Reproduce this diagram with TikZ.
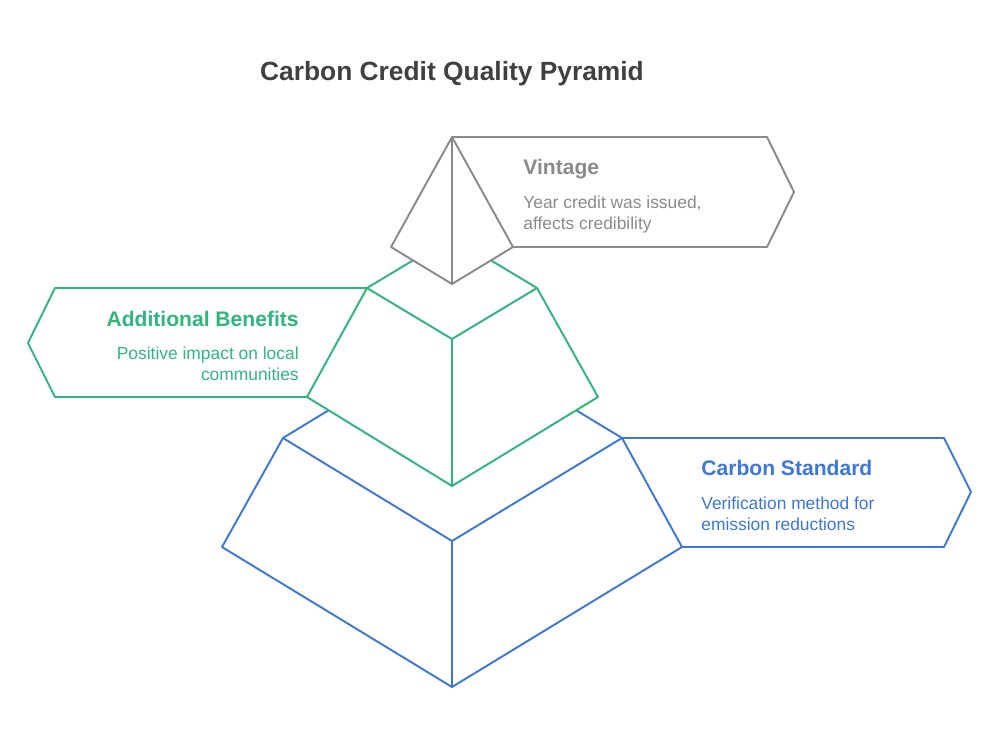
\documentclass[tikz,border=0pt]{standalone}
\usepackage{fontspec}
\setmainfont{Liberation Sans}
\definecolor{vintagegray}{HTML}{8A8A8A}
\definecolor{benefitgreen}{HTML}{2FB67C}
\definecolor{standardblue}{HTML}{3B78D8}
\definecolor{titlegray}{HTML}{404040}
\tikzset{
    edge/.style={line width=1.1pt, line join=round},
    head/.style={font=\fontsize{12}{14}\selectfont\bfseries, inner sep=0pt},
    desc/.style={font=\fontsize{9.9}{11.4}\selectfont, inner sep=0pt}
}
\begin{document}
\begin{tikzpicture}[x=0.02cm, y=-0.02cm]
    \useasboundingbox (0,0) rectangle (1000,744);

    \node[font=\fontsize{15}{18}\selectfont\bfseries, text=titlegray, anchor=base, inner sep=0pt] (title) at (452,80) {Carbon Credit Quality Pyramid};

    % bottom level
    \coordinate (bTop) at (452,335);
    \coordinate (bL) at (283,438);
    \coordinate (bR) at (622,438);
    \coordinate (bIn) at (452,541);
    \coordinate (bLL) at (222,547);
    \coordinate (bRR) at (682,547);
    \coordinate (bBot) at (452,687);
    \draw[edge, standardblue] (bTop) -- (bL) -- (bIn) -- (bR) -- cycle;
    \draw[edge, standardblue] (bR) -- (bRR) -- (bBot) -- (bLL) -- (bL);
    \draw[edge, standardblue] (bIn) -- (bBot);
    \draw[edge, standardblue] (bR) -- (944,438) -- (971,492) -- (944,547) -- (bRR);
    \node[head, text=standardblue, anchor=base west] (standardHead) at (701,475) {Carbon Standard};
    \node[desc, text=standardblue, anchor=base west, align=left] (standardDesc) at (701,530) {Verification method for\\emission reductions};

    % middle level
    \coordinate (gTop) at (452,237);
    \coordinate (gL) at (367,288);
    \coordinate (gR) at (537,288);
    \coordinate (gIn) at (452,339);
    \coordinate (gLL) at (307,397);
    \coordinate (gRR) at (598,397);
    \coordinate (gBot) at (452,486);
    \fill[white] (gTop) -- (gR) -- (gRR) -- (gBot) -- (gLL) -- (gL) -- cycle;
    \draw[edge, benefitgreen] (gTop) -- (gL) -- (gIn) -- (gR) -- cycle;
    \draw[edge, benefitgreen] (gR) -- (gRR) -- (gBot) -- (gLL) -- (gL);
    \draw[edge, benefitgreen] (gIn) -- (gBot);
    \draw[edge, benefitgreen] (gL) -- (55,288) -- (28,343) -- (55,397) -- (gLL);
    \node[head, text=benefitgreen, anchor=base east] (benefitHead) at (299,326) {Additional Benefits};
    \node[desc, text=benefitgreen, anchor=base east, align=right] (benefitDesc) at (299,380) {Positive impact on local\\communities};

    % top level
    \coordinate (vTop) at (452,137);
    \coordinate (vL) at (391,247);
    \coordinate (vR) at (513,247);
    \coordinate (vBot) at (452,284);
    \fill[white] (vTop) -- (vR) -- (vBot) -- (vL) -- cycle;
    \draw[edge, vintagegray] (vTop) -- (vR) -- (vBot) -- (vL) -- cycle;
    \draw[edge, vintagegray] (vTop) -- (vBot);
    \draw[edge, vintagegray] (vTop) -- (767,137) -- (794,192) -- (767,247) -- (vR);
    \node[head, text=vintagegray, anchor=base west] (vintageHead) at (523,174) {Vintage};
    \node[desc, text=vintagegray, anchor=base west, align=left] (vintageDesc) at (523,229) {Year credit was issued,\\affects credibility};
\end{tikzpicture}
\end{document}
